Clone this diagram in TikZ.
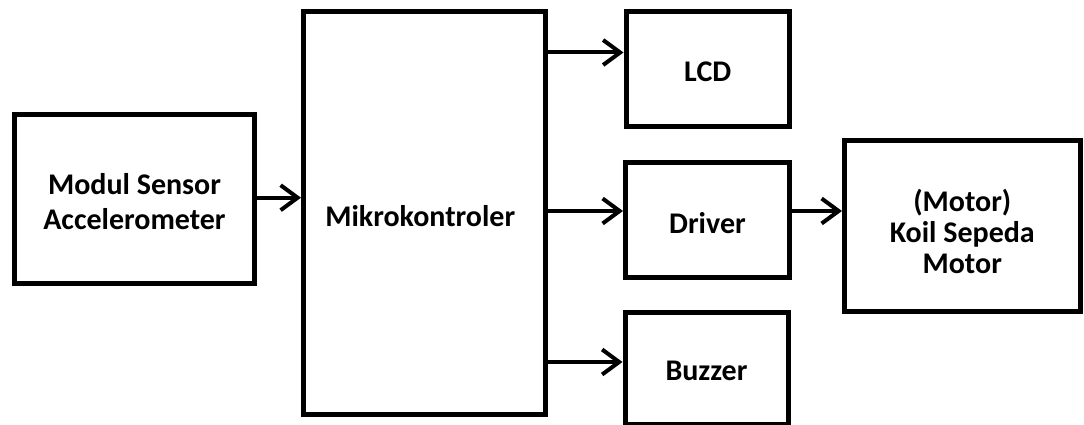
\documentclass[tikz,border=0pt]{standalone}
\usepackage{fontspec}
\setmainfont{Carlito}
\usetikzlibrary{arrows.meta,calc}
\begin{document}
\begin{tikzpicture}[x=1pt,y=-1pt,
  blk/.style={draw=black,line width=5pt,fill=white,inner sep=0pt,align=center,
    font=\fontsize{30}{31}\selectfont\bfseries,text=black},
  lbl/.style={blk,draw=none,fill=none},
  arr/.style={line width=4pt,-{Straight Barb[length=17pt,width=25pt,line width=4pt]}}]
\useasboundingbox (0,0) rectangle (1084,425);
\fill[white] (0,0) rectangle (1084,425);
\node[blk,minimum width=240pt,minimum height=169pt] (sensor) at (134.5,199) {};
\node at ([yshift=-3pt]sensor.center) [lbl] (sensortxt) {Modul Sensor\\[4pt]Accelerometer};
\node[blk,minimum width=241.5pt,minimum height=402.5pt] (mikro) at (424.25,212.75) {};
\node at ([yshift=-3pt,xshift=-4pt]mikro.center) [lbl] (mikrotxt) {Mikrokontroler};
\node[blk,minimum width=163.5pt,minimum height=115pt] (lcd) at (707.75,69) {};
\node at ([yshift=-3pt]lcd.center) [lbl] (lcdtxt) {LCD};
\node[blk,minimum width=164pt,minimum height=115pt] (driver) at (707.5,220) {};
\node at ([yshift=-3pt]driver.center) [lbl] (drivertxt) {Driver};
\node[blk,minimum width=163pt,minimum height=111.5pt] (buzzer) at (706.5,368.25) {};
\node at ([yshift=-3pt]buzzer.center) [lbl] (buzzertxt) {Buzzer};
\node[blk,minimum width=235.5pt,minimum height=170pt] (motor) at (962.25,226) {};
\node at ([yshift=-5pt]motor.center) [lbl] (motortxt) {(Motor)\\Koil Sepeda\\Motor};
\coordinate (ya) at (0,197.7);
\coordinate (yb) at (0,52.5);
\coordinate (yc) at (0,211);
\coordinate (yd) at (0,362);
\draw[arr] (sensor.east |- ya) -- (mikro.west |- ya);
\draw[arr] (mikro.east |- yb) -- (lcd.west |- yb);
\draw[arr] (mikro.east |- yc) -- (driver.west |- yc);
\draw[arr] (mikro.east |- yd) -- (buzzer.west |- yd);
\draw[arr] (driver.east |- yc) -- (motor.west |- yc);
\end{tikzpicture}
\end{document}
